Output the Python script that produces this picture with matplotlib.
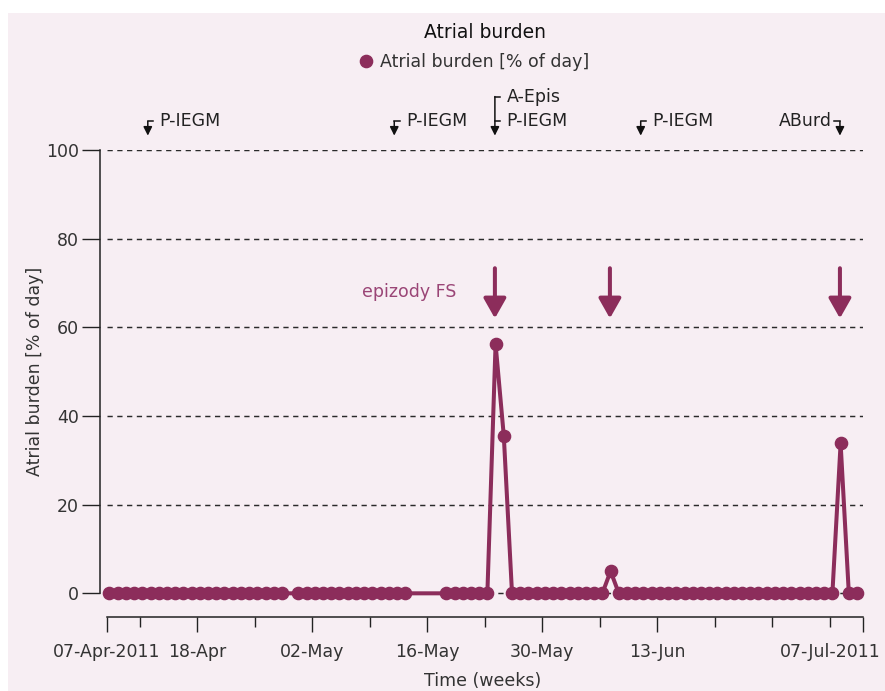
import numpy as np
import pandas as pd
import matplotlib
matplotlib.use('Agg')
import matplotlib.pyplot as plt
import matplotlib.dates as mdates
import matplotlib.transforms as mtransforms
from matplotlib.lines import Line2D
from matplotlib.patches import Rectangle

plt.rcParams['font.family'] = ['DejaVu Sans']

'''
DATA
'''
# one reading per day (taken in the morning), some days were not transmitted
FIRST_DAY = '2011-04-07 08:00'
LAST_DAY = '2011-07-07 08:00'
missing_days = ['2011-04-29', '2011-05-14', '2011-05-15', '2011-05-16', '2011-05-17']

# atrial burden [% of day]
burden = [
    0, 0, 0, 0, 0, 0, 0, 0, 0, 0, 0, 0, 0, 0, 0, 0, 0, 0, 0, 0, 0, 0,   # 07-Apr .. 28-Apr
    0, 0, 0, 0, 0, 0, 0, 0, 0, 0, 0, 0, 0, 0,                           # 30-Apr .. 13-May
    0, 0, 0, 0, 0, 0,                                                   # 18-May .. 23-May
    56.2, 35.5,                                                         # 24-May, 25-May
    0, 0, 0, 0, 0, 0, 0, 0, 0, 0, 0, 0,                                 # 26-May .. 06-Jun
    5.0,                                                                # 07-Jun
    0, 0, 0, 0, 0, 0, 0, 0, 0, 0, 0, 0, 0, 0, 0, 0, 0, 0, 0, 0, 0, 0, 0, 0, 0, 0, 0,  # 08-Jun .. 04-Jul
    33.8,                                                               # 05-Jul
    0, 0,                                                               # 06-Jul, 07-Jul
]

# device events shown above the chart
event_labels = ['P-IEGM', 'P-IEGM', 'A-Epis\nP-IEGM', 'P-IEGM', 'ABurd']
event_times = ['2011-04-12 00:00', '2011-05-12 00:00', '2011-05-24 06:00',
               '2011-06-11 00:00', '2011-07-05 06:00']

# AF episodes ("epizody FS")
fs_times = ['2011-05-24 06:00', '2011-06-07 06:00', '2011-07-05 06:00']

# axis
x_start, x_end = '2011-04-07', '2011-07-08'
major_ticks = ['2011-04-07', '2011-04-18', '2011-05-02', '2011-05-16',
               '2011-05-30', '2011-06-13', '2011-07-08']
major_labels = ['07-Apr-2011', '18-Apr', '02-May', '16-May', '30-May', '13-Jun', '07-Jul-2011']
minor_ticks = ['2011-04-11', '2011-04-25', '2011-05-09', '2011-05-23',
               '2011-06-06', '2011-06-20', '2011-06-27', '2011-07-04']
y_ticks = [0, 20, 40, 60, 80, 100]

'''
STYLE
'''
PURPLE = '#8C2D5B'
FS_TEXT = '#9A4576'
BG = '#F7EEF3'
INK = '#222222'

days = pd.date_range(FIRST_DAY, LAST_DAY, freq='D')
days = days[~days.normalize().isin(pd.to_datetime(missing_days))]
assert len(days) == len(burden)

fig = plt.figure(figsize=(8.85, 6.91), dpi=100)
fig.patch.set_facecolor('white')
fig.add_artist(Rectangle((8 / 885, 0), 1 - 8 / 885, 1 - 13 / 691, transform=fig.transFigure,
                         facecolor=BG, edgecolor='none', zorder=-10))

ax = fig.add_axes([0.1206, 0.1221, 0.854, 0.6611])
ax.set_facecolor('none')

ax.plot(days, burden, color=PURPLE, lw=2.9, marker='o', ms=8.8, clip_on=False, zorder=3)

ax.set_xlim(pd.Timestamp(x_start), pd.Timestamp(x_end))
ax.set_ylim(-3, 100)

# grid
ax.set_yticks(y_ticks)
ax.yaxis.grid(True, linestyle=(0, (3.6, 3.1)), color='#2a2a2a', lw=1.05)
ax.set_axisbelow(True)

# spines
for s in ['top', 'right']:
    ax.spines[s].set_visible(False)
ax.spines['left'].set_position(('outward', 4.5))
ax.spines['bottom'].set_position(('outward', 7.3))
ax.spines['left'].set_bounds(0, 100)
ax.spines['left'].set_color(INK)
ax.spines['bottom'].set_color(INK)
ax.spines['left'].set_linewidth(1.1)
ax.spines['bottom'].set_linewidth(1.1)

# x ticks
ax.set_xticks(pd.to_datetime(major_ticks))
ax.set_xticklabels(major_labels)
ax.set_xticks(pd.to_datetime(minor_ticks), minor=True)
ax.tick_params(axis='x', which='major', length=10.8, width=1, color=INK, pad=8,
               labelsize=12.5, labelcolor='#333333')
ax.tick_params(axis='x', which='minor', length=7.2, width=1, color=INK)
ax.tick_params(axis='y', length=13, width=1, color=INK, pad=2.5,
               labelsize=12.5, labelcolor='#333333')

# last label sits left of its tick so it stays inside the figure
last = ax.get_xticklabels()[-1]
last.set_horizontalalignment('right')
last.set_transform(last.get_transform() + mtransforms.ScaledTranslation(0.18, 0, fig.dpi_scale_trans))

ax.set_xlabel('Time (weeks)', fontsize=12.5, color='#333333', va='center')
ax.xaxis.set_label_coords(0.498, -0.163)
ax.set_ylabel('Atrial burden [% of day]', fontsize=12.5, color='#333333', va='center')
ax.yaxis.set_label_coords(-0.095, 0.516)

# title + legend
fig.text(485 / 885, 1 - 32 / 691, 'Atrial burden', ha='center', va='center',
         fontsize=13.5, color='#111111')
handle = Line2D([], [], color=PURPLE, marker='o', ls='none', ms=8.8)
fig.legend([handle], ['Atrial burden [% of day]'], loc='center',
           bbox_to_anchor=(474 / 885, 1 - 62 / 691), frameon=False,
           handlelength=0.8, handletextpad=0.4, fontsize=12.5, labelcolor='#333333')

# event markers above the plot
ARROW_TIP, BRACKET_TOP, TOP_ROW = 103.2, 106.4, 112.0
tick_days = 0.68
for lab, t in zip(event_labels, event_times):
    x = mdates.date2num(pd.Timestamp(t))
    lines = lab.split('\n')
    top = BRACKET_TOP if len(lines) == 1 else TOP_ROW
    ax.annotate('', xy=(x, ARROW_TIP), xytext=(x, top), annotation_clip=False,
                arrowprops=dict(arrowstyle='-|>', color='#111111', lw=1.1,
                                shrinkA=0, shrinkB=0, mutation_scale=13))
    if lab == 'ABurd':
        ax.plot([x - tick_days, x], [top, top], color='#111111', lw=1.1, clip_on=False)
        ax.annotate(lab, xy=(x, BRACKET_TOP), xytext=(-6, 0), textcoords='offset points',
                    ha='right', va='center', fontsize=12.5, color='#222222', annotation_clip=False)
        continue
    rows = [TOP_ROW, BRACKET_TOP] if len(lines) == 2 else [BRACKET_TOP]
    for txt, y in zip(lines, rows):
        ax.plot([x, x + tick_days], [y, y], color='#111111', lw=1.1, clip_on=False)
        ax.annotate(txt, xy=(x, y), xytext=(8.5, 0), textcoords='offset points',
                    ha='left', va='center', fontsize=12.5, color='#222222', annotation_clip=False)

# AF episode arrows
for t in fs_times:
    x = mdates.date2num(pd.Timestamp(t))
    ax.annotate('', xy=(x, 62.0), xytext=(x, 73.3),
                arrowprops=dict(arrowstyle='-|>,head_length=0.6,head_width=0.34',
                                color=PURPLE, lw=2.9, shrinkA=0, shrinkB=0, mutation_scale=20))
ax.annotate('epizody FS', xy=(mdates.date2num(pd.Timestamp(fs_times[0])), 68.0),
            xytext=(-28, 0), textcoords='offset points', ha='right', va='center',
            fontsize=12.5, color=FS_TEXT)

fig.savefig('out.png', dpi=100, facecolor=fig.get_facecolor())
